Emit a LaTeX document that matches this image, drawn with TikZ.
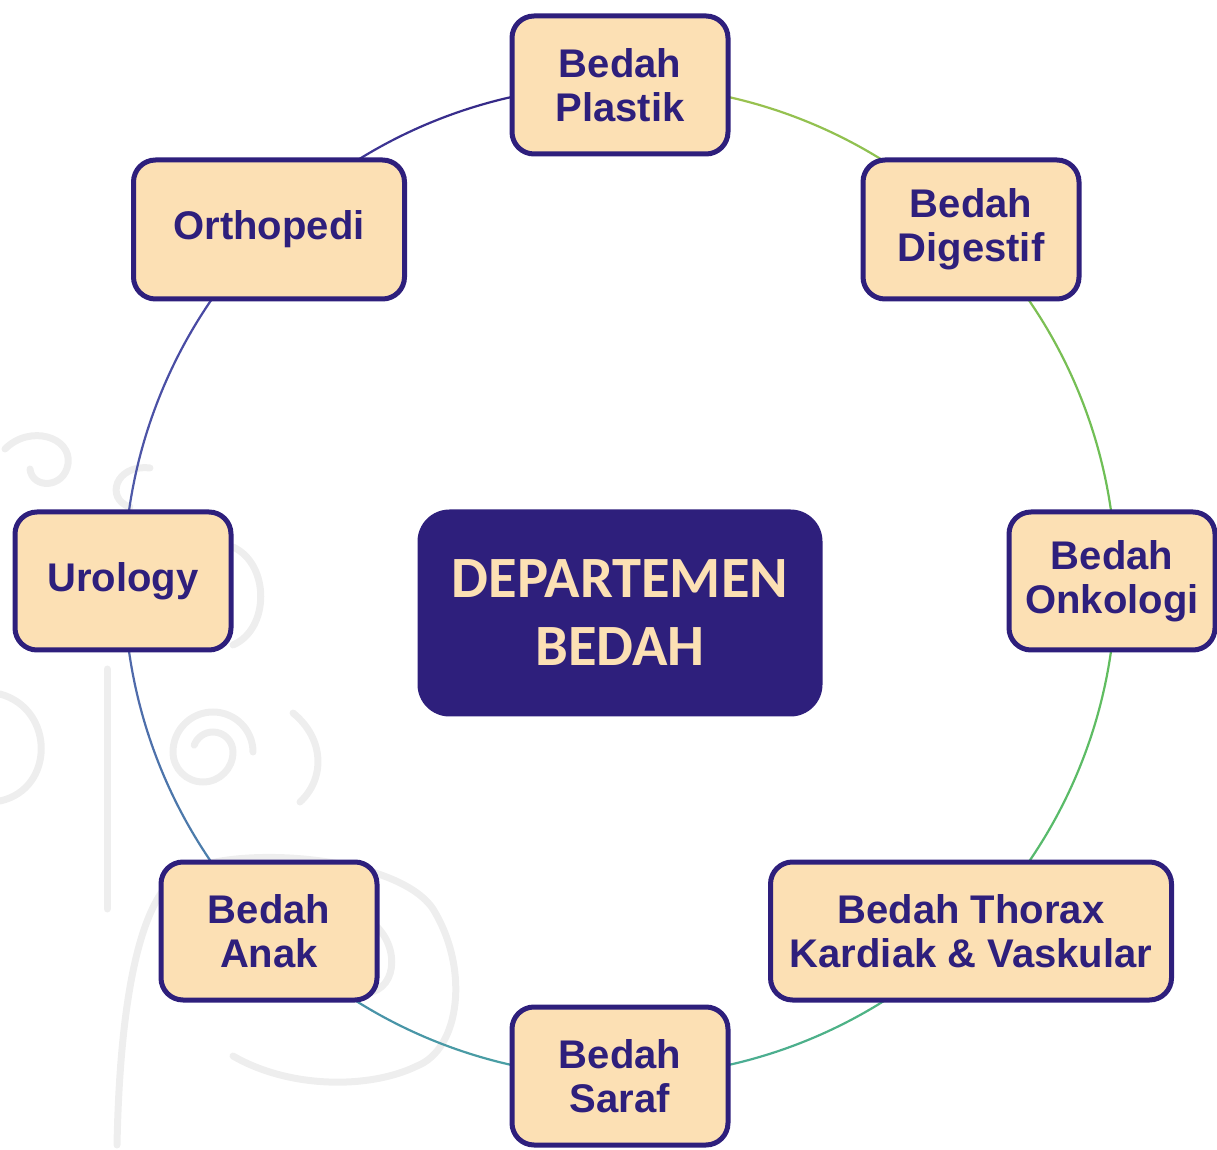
\documentclass[tikz,border=0pt]{standalone}
\usepackage{fontspec}
\setmainfont{Liberation Sans}
\newfontfamily\calib{Carlito}
\definecolor{dpurple}{HTML}{2E1F7C}
\definecolor{peach}{HTML}{FCE0B4}
\definecolor{wmgray}{HTML}{EEEEEE}
\definecolor{cA}{HTML}{A2C24E}
\definecolor{cB}{HTML}{85C052}
\definecolor{cC}{HTML}{66BE58}
\definecolor{cD}{HTML}{52B975}
\definecolor{cE}{HTML}{48A8A0}
\definecolor{cF}{HTML}{4A88AC}
\definecolor{cG}{HTML}{5160AA}
\definecolor{cH}{HTML}{4540A0}
\definecolor{cI}{HTML}{2E1F7C}
\tikzset{
  dept/.style={draw=dpurple, line width=5pt, fill=peach, rounded corners=22pt,
    align=center, text=dpurple, font=\fontsize{40}{44}\selectfont\bfseries,
    inner sep=0pt, minimum height=138pt, minimum width=216pt},
  hub/.style={fill=dpurple, rounded corners=32pt, align=center, text=peach,
    font=\calib\bfseries\fontsize{58.5}{68}\selectfont, inner sep=0pt,
    minimum width=405pt, minimum height=207pt},
  wm/.style={draw=wmgray, line width=7pt, line cap=round},
  ring/.style={line width=2.2pt, line cap=round}
}
\begin{document}
\begin{tikzpicture}[x=1pt,y=1pt]
\useasboundingbox (0,0) rectangle (1217,1149);
% watermark
\draw[wm] (5,700) .. controls (30,725) and (72,712) .. (68,685) .. controls (64,660) and (32,660) .. (30,680);
\draw[wm] (150,681) .. controls (115,685) and (105,650) .. (130,642);
\draw[wm] (233,602) .. controls (270,585) and (270,520) .. (233,504);
\draw[wm] (0,455) .. controls (55,440) and (55,360) .. (0,348);
\draw[wm] (253,397) arc[start angle=0, end angle=180, radius=40pt] arc[start angle=180, end angle=360, radius=30pt] arc[start angle=0, end angle=160, radius=20pt];
\draw[wm] (293,436) .. controls (325,410) and (325,370) .. (300,347);
\draw[wm] (107,240) -- (107,480);
\draw[wm] (117,4) .. controls (120,150) and (140,260) .. (187,279) .. controls (250,305) and (400,290) .. (433,240) .. controls (470,180) and (460,100) .. (417,83) .. controls (370,60) and (290,60) .. (233,93);
\draw[wm] (367,230) .. controls (400,210) and (400,160) .. (367,156);
% ring
\coordinate (O) at (620,568);
\foreach \s/\ca/\cb in {90/cA/cB, 45/cB/cC, 0/cC/cD, -45/cD/cE, -90/cE/cF, -135/cF/cG, -180/cG/cH, -225/cH/cI}{
  \foreach \j in {0,...,14}{
    \pgfmathsetmacro\p{(\j+0.5)*100/15}
    \pgfmathsetmacro\a{\s-\j*3}
    \pgfmathsetmacro\e{\s-\j*3-3}
    \draw[ring, color=\cb!\p!\ca] ([shift={(\a:496pt)}]O) arc[start angle=\a, end angle=\e, radius=496pt];
  }
}
% nodes
\node[hub] (center) at (620,536) {DEPARTEMEN\\BEDAH};
\node[dept] (plastik) at (620,1064) {Bedah\\Plastik};
\node[dept, minimum height=139pt] (digestif) at (971,919.5) {Bedah\\Digestif};
\node[dept, minimum height=139pt, minimum width=271pt] (ortho) at (269,919.5) {Orthopedi};
\node[dept] (urology) at (123,568) {Urology};
\node[dept, minimum width=206pt] (onko) at (1112,568) {Bedah\\Onkologi};
\node[dept] (anak) at (269,218) {Bedah\\Anak};
\node[dept, minimum width=401pt] (thorax) at (971,218) {Bedah Thorax\\Kardiak \& Vaskular};
\node[dept] (saraf) at (620,73) {Bedah\\Saraf};
\end{tikzpicture}
\end{document}
